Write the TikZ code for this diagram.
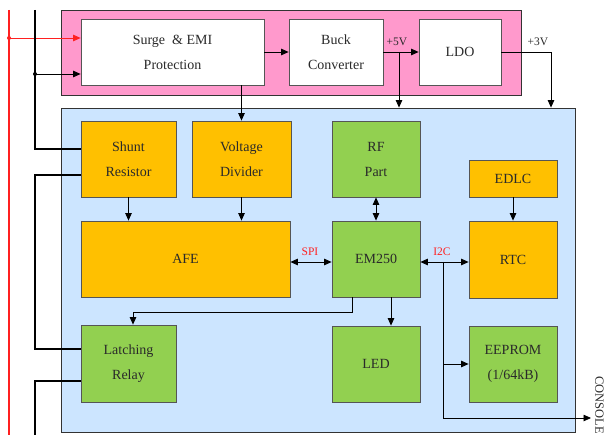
\documentclass[tikz,border=0pt]{standalone}
\usepackage{fontspec}
\setmainfont{Liberation Serif}
\usetikzlibrary{arrows.meta}
\definecolor{pinkbg}{HTML}{FF99CC}
\definecolor{bluebg}{HTML}{CCE5FF}
\definecolor{orangebox}{HTML}{FFC000}
\definecolor{greenbox}{HTML}{92D050}
\definecolor{edge}{HTML}{555555}
\definecolor{txt}{HTML}{2A2A2A}
\definecolor{redline}{HTML}{FF2020}
\tikzset{
  box/.style={draw=edge, line width=0.8pt, inner sep=0pt, align=center, text=txt,
    font=\fontsize{14}{25}\selectfont},
  whitebox/.style={box, fill=white},
  orbox/.style={box, fill=orangebox},
  grbox/.style={box, fill=greenbox},
  conn/.style={line width=0.8pt, -{Triangle[length=7.5pt,width=6.5pt]}},
  bconn/.style={line width=0.8pt, {Triangle[length=7.5pt,width=6.5pt]}-{Triangle[length=7.5pt,width=6.5pt]}},
  plain/.style={line width=0.8pt},
  thickline/.style={line width=2.4pt},
  lab/.style={font=\fontsize{11.5}{13}\selectfont, inner sep=1pt, text=txt},
  redlab/.style={lab, text=redline},
  dot/.style={circle, fill, inner sep=0pt, minimum size=4pt},
}
\begin{document}
\begin{tikzpicture}[x=1pt, y=-1pt]
\useasboundingbox (0,0) rectangle (604,435);
% containers
\node[draw=black!80, line width=0.8pt, fill=pinkbg, minimum width=460pt, minimum height=85pt, inner sep=0pt] (pink) at (291,52.5) {};
\node[draw=black!80, line width=0.8pt, fill=bluebg, minimum width=514pt, minimum height=324pt, inner sep=0pt] (blue) at (318,270) {};
% power boxes
\node[whitebox, minimum width=183pt, minimum height=66pt] (surge) at (172.5,52) {Surge \ \& EMI\\Protection};
\node[whitebox, minimum width=94pt, minimum height=66pt] (buck) at (336,52) {Buck\\Converter};
\node[whitebox, minimum width=82pt, minimum height=66pt] (ldo) at (460,52) {LDO};
% inner boxes
\node[orbox, minimum width=95pt, minimum height=76pt] (shunt) at (128.5,159) {Shunt\\Resistor};
\node[orbox, minimum width=99pt, minimum height=76pt] (vdiv) at (241.5,159) {Voltage\\Divider};
\node[orbox, minimum width=209pt, minimum height=76pt] (afe) at (185.5,259) {AFE};
\node[grbox, minimum width=88pt, minimum height=76pt] (rf) at (376,159) {RF\\Part};
\node[grbox, minimum width=88pt, minimum height=76pt] (em) at (376,259) {EM250};
\node[orbox, minimum width=88pt, minimum height=37pt] (edlc) at (513,178.5) {EDLC};
\node[orbox, minimum width=88pt, minimum height=77pt] (rtc) at (513,259.5) {RTC};
\node[grbox, minimum width=88pt, minimum height=76pt] (led) at (376,364) {LED};
\node[grbox, minimum width=88pt, minimum height=76pt] (eeprom) at (513,364) {EEPROM\\(1/64kB)};
\node[grbox, minimum width=95pt, minimum height=77pt] (relay) at (128.5,363.5) {Latching\\Relay};
% coordinates
\coordinate (p5) at (399,52);
\coordinate (p3) at (551,52);
\coordinate (ybus) at (0,262);
\coordinate (i2ctop) at (443,262);
\coordinate (i2cmid) at (443,364);
\coordinate (i2cbot) at (443,418);
\coordinate (console) at (591,418);
\coordinate (rtop) at (9,10);
\coordinate (rbot) at (9,435);
\coordinate (rdot) at (9,38);
\coordinate (btop) at (35,10);
\coordinate (bdot) at (35,74);
\coordinate (bturn) at (35,149);
\coordinate (b2a) at (35,175);
\coordinate (b2b) at (35,349);
\coordinate (b3a) at (35,381);
\coordinate (b3b) at (35,435);
\coordinate (emout) at (352,297);
\coordinate (emcorner) at (352,312);
\coordinate (relcorner) at (133,312);
\coordinate (ledx) at (391,0);
% power connectors
\draw[conn] (surge.east) -- (buck.west);
\draw[conn] (buck.east) -- (ldo.west);
\node[lab, anchor=south] (v5) at (397,47) {+5V};
\draw[conn] (p5) -- (p5 |- blue.north);
\draw[conn] (ldo.east) -| (p3 |- blue.north);
\node[lab, anchor=south] (v3) at (538,47) {+3V};
\draw[conn] (surge.south -| vdiv.north) -- (vdiv.north);
% inner connectors
\draw[conn] (shunt.south) -- (shunt.south |- afe.north);
\draw[conn] (vdiv.south) -- (vdiv.south |- afe.north);
\draw[bconn] (rf.south) -- (em.north);
\draw[bconn] (afe.east |- ybus) -- (em.west |- ybus);
\node[redlab, anchor=south] (spi) at (310,257) {SPI};
\draw[bconn] (em.east |- ybus) -- (rtc.west |- ybus);
\node[redlab, anchor=south] (i2c) at (442,257) {I2C};
\draw[plain] (i2ctop) -- (i2cbot);
\draw[conn] (i2cbot) -- (console);
\draw[conn] (i2cmid) -- (eeprom.west |- i2cmid);
\node[lab, font=\fontsize{12.5}{14}\selectfont, rotate=-90, anchor=center] (cons) at (599.5,405) {CONSOLE};
\draw[conn] (edlc.south) -- (rtc.north);
\draw[conn] (em.south -| ledx) -- (led.north -| ledx);
\draw[plain] (emout) -- (emcorner) -- (relcorner);
\draw[conn] (relcorner) -- (relcorner |- relay.north);
% left bus
\draw[redline, line width=2pt] (rtop) -- (rbot);
\draw[redline, line width=0.8pt, -{Triangle[length=7.5pt,width=6.5pt]}] (rdot) -- (surge.west |- rdot);
\node[dot, fill=redline] at (rdot) {};
\draw[thickline] (btop) -- (bturn) -- (shunt.west |- bturn);
\draw[conn] (bdot) -- (surge.west |- bdot);
\node[dot] at (bdot) {};
\draw[thickline] (shunt.west |- b2a) -- (b2a) -- (b2b) -- (relay.west |- b2b);
\draw[thickline] (relay.west |- b3a) -- (b3a) -- (b3b);
\end{tikzpicture}
\end{document}
